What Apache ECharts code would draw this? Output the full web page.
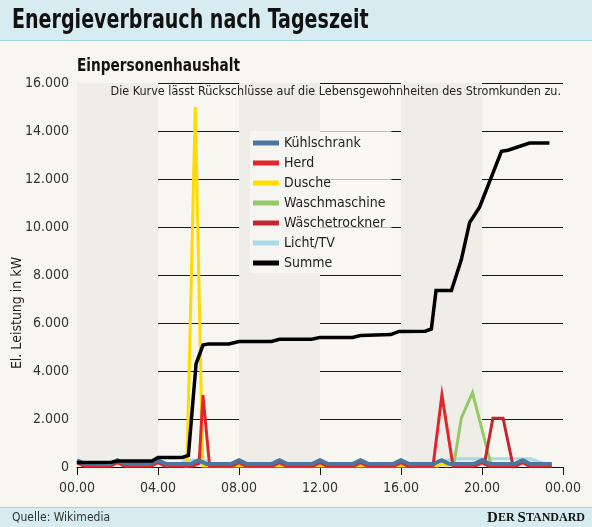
<!DOCTYPE html>
<html>
<head>
<meta charset="utf-8">
<script src="https://cdn.jsdelivr.net/npm/echarts@6/dist/echarts.min.js"></script>
<style>
  html, body { margin: 0; padding: 0; background: #f8f6f0; }
  #chart { width: 592px; height: 527px; }
</style>
</head>
<body>
<div id="chart"></div>
<script>
// x ticks (hours) and their labels
var tickLabels = ['00.00', '04.00', '08.00', '12.00', '16.00', '20.00', '00.00'];
var seriesNames = ['Kühlschrank', 'Herd', 'Dusche', 'Waschmaschine', 'Wäschetrockner', 'Licht/TV', 'Summe'];

// [hour, watt]
var kuehlschrank = [
  [0, 280], [0.4, 120], [1.6, 120], [2, 280], [2.4, 120], [3.6, 120], [4, 280], [4.4, 120],
  [5.6, 120], [6, 280], [6.4, 120], [7.6, 120], [8, 280], [8.4, 120], [9.6, 120], [10, 280],
  [10.4, 120], [11.6, 120], [12, 280], [12.4, 120], [13.6, 120], [14, 280], [14.4, 120],
  [15.6, 120], [16, 280], [16.4, 120], [17.6, 120], [18, 280], [18.4, 120], [19.6, 120],
  [20, 280], [20.4, 120], [21.6, 120], [22, 280], [22.4, 120], [23.45, 120]
];
var herd = [
  [0, 180], [0.35, 30], [1.65, 30], [2, 180], [2.35, 30], [3.65, 30], [4, 180], [4.35, 30],
  [5.7, 30], [6.03, 150], [6.22, 3000], [6.55, 30], [7.65, 30], [8, 180], [8.35, 30],
  [9.65, 30], [10, 180], [10.35, 30], [11.65, 30], [12, 180], [12.35, 30], [13.65, 30],
  [14, 180], [14.35, 30], [15.65, 30], [16, 180], [16.35, 30], [17.58, 30], [18.02, 3000],
  [18.57, 30], [19.65, 30], [20, 180], [20.35, 30], [21.65, 30], [22, 180], [22.35, 30],
  [23.45, 30]
];
var dusche = [[5.3, 40], [5.43, 40], [5.84, 15000], [6.21, 40], [17.8, 40], [18.05, 130], [18.3, 40]];
var waschmaschine = [[18.6, 60], [18.98, 2040], [19.53, 3100], [20.46, 60]];
var waeschetrockner = [[20.1, 60], [20.54, 2030], [21.04, 2030], [21.53, 60]];
var lichtTv = [
  [5.05, 60], [5.35, 280], [6.3, 280], [6.6, 60],
  [17.3, 60], [18.0, 250], [18.7, 340], [22.4, 340], [23.35, 60]
];
var summe = [
  [0, 190], [1.7, 200], [2.0, 250], [3.7, 250], [4.0, 400], [5.2, 400], [5.5, 480],
  [5.88, 4300], [6.22, 5080], [6.5, 5130], [7.5, 5130], [8.0, 5230], [9.6, 5230],
  [10.0, 5320], [11.6, 5320], [12.0, 5400], [13.6, 5400], [14.0, 5480], [15.5, 5520],
  [15.9, 5650], [17.2, 5660], [17.5, 5750], [17.73, 7350], [18.49, 7350], [18.98, 8640],
  [19.39, 10190], [19.88, 10830], [20.96, 13150], [21.28, 13200], [22.35, 13500],
  [23.33, 13500]
];

var font = "'DejaVu Sans Condensed', 'Liberation Sans Narrow', sans-serif";
var ink = '#222';

var chart = echarts.init(document.getElementById('chart'), null, { renderer: 'canvas' });

function lineSeries(name, data, color, width, z) {
  return {
    name: name,
    type: 'line',
    data: data,
    showSymbol: false,
    symbol: 'none',
    z: z,
    itemStyle: { color: color },
    lineStyle: { color: color, width: width, join: 'miter' },
    emphasis: { disabled: true }
  };
}

chart.setOption({
  animation: false,
  backgroundColor: '#f8f6f0',
  grid: { left: 77, right: 29, top: 83, bottom: 60 },
  legend: {
    data: seriesNames,
    orient: 'vertical',
    left: 250,
    top: 131,
    icon: 'rect',
    itemWidth: 26,
    itemHeight: 5,
    itemGap: 6,
    padding: [5, 6, 3, 3],
    backgroundColor: 'rgba(249,248,245,0.72)',
    textStyle: { color: ink, fontSize: 14, lineHeight: 14, fontFamily: font },
    selectedMode: false
  },
  xAxis: {
    type: 'value',
    min: 0,
    max: 24,
    interval: 4,
    axisLine: { show: true, lineStyle: { color: '#111', width: 1 } },
    axisTick: { show: true, length: 8, lineStyle: { color: '#111' } },
    axisLabel: {
      color: '#333', fontSize: 14, fontFamily: font, margin: 14,
      formatter: function (v, i) { return tickLabels[i]; }
    },
    splitLine: { show: false },
    splitArea: { show: true, areaStyle: { color: ['#eeede8', 'rgba(0,0,0,0)'] } }
  },
  yAxis: {
    type: 'value',
    min: 0,
    max: 16000,
    interval: 2000,
    axisLine: { show: false },
    axisTick: { show: false },
    axisLabel: {
      color: '#333', fontSize: 14, fontFamily: font, margin: 8,
      formatter: function (v) { return v === 0 ? '0' : (v / 1000) + '.000'; }
    },
    splitLine: { lineStyle: { color: '#1a1a1a', width: 1 } }
  },
  graphic: [
    { type: 'rect', z: 0, shape: { x: 0, y: 0, width: 592, height: 40 }, style: { fill: '#d6ecf1' } },
    { type: 'line', z: 0, shape: { x1: 0, y1: 40.5, x2: 592, y2: 40.5 }, style: { stroke: '#a4d3de', lineWidth: 1 } },
    { type: 'rect', z: 0, shape: { x: 0, y: 507, width: 592, height: 20 }, style: { fill: '#d6ecf1' } },
    { type: 'line', z: 0, shape: { x1: 0, y1: 507.5, x2: 592, y2: 507.5 }, style: { stroke: '#a4d3de', lineWidth: 1 } },
    {
      type: 'text', x: 12, y: 21, scaleX: 0.785, z: 50,
      style: { text: 'Energieverbrauch nach Tageszeit', fill: '#111', font: 'bold 27px ' + font, verticalAlign: 'middle' }
    },
    {
      type: 'text', x: 77, y: 66, scaleX: 0.845, z: 50,
      style: { text: 'Einpersonenhaushalt', fill: '#111', font: 'bold 18px ' + font, verticalAlign: 'middle' }
    },
    {
      type: 'text', x: 561, y: 92, scaleX: 0.96, z: 50,
      style: { text: 'Die Kurve lässt Rückschlüsse auf die Lebensgewohnheiten des Stromkunden zu.', fill: '#222', font: '13px ' + font, align: 'right', verticalAlign: 'middle' }
    },
    {
      type: 'text', x: 17, y: 313, rotation: Math.PI / 2, z: 50,
      style: { text: 'El. Leistung in kW', fill: '#222', font: '14px ' + font, align: 'center', verticalAlign: 'middle' }
    },
    {
      type: 'text', x: 12, y: 518, z: 50,
      style: { text: 'Quelle: Wikimedia', fill: '#333', font: '12px ' + font, verticalAlign: 'middle' }
    },
    {
      type: 'text', x: 585, y: 518, z: 50,
      style: {
        text: '{b|D}{s|ER }{b|S}{s|TANDARD}',
        align: 'right', verticalAlign: 'middle',
        rich: {
          b: { fontFamily: "'Liberation Serif', serif", fontWeight: 'bold', fontSize: 15, fill: '#111' },
          s: { fontFamily: "'Liberation Serif', serif", fontWeight: 'bold', fontSize: 12, fill: '#111' }
        }
      }
    }
  ],
  series: [
    lineSeries('Licht/TV', lichtTv, '#a8dce4', 3, 2),
    lineSeries('Dusche', dusche, '#ffdb00', 3, 3),
    lineSeries('Waschmaschine', waschmaschine, '#96c965', 3, 4),
    lineSeries('Wäschetrockner', waeschetrockner, '#c4262e', 3, 5),
    lineSeries('Herd', herd, '#e3242b', 3, 6),
    lineSeries('Kühlschrank', kuehlschrank, '#4a76a0', 4, 7),
    lineSeries('Summe', summe, '#000000', 3.5, 8)
  ]
});
window.addEventListener('resize', function () { chart.resize(); });
</script>
</body>
</html>
